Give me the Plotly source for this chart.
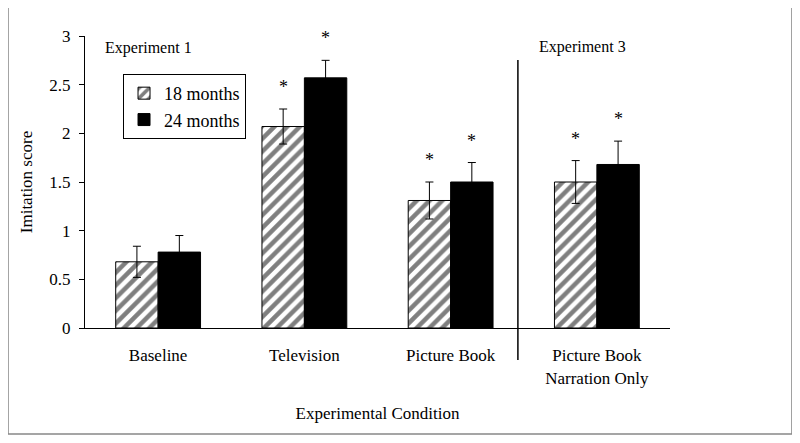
import plotly.graph_objs as go

# data
conditions = ["Baseline", "Television", "Picture Book", "Picture Book<br>Narration Only"]
months18 = [0.68, 2.07, 1.31, 1.50]
months18_err = [0.16, 0.18, 0.19, 0.22]
months24 = [0.78, 2.57, 1.50, 1.68]
months24_err = [0.17, 0.18, 0.20, 0.24]
sig18 = [False, True, True, True]
sig24 = [False, True, True, True]

font = "Liberation Serif, Times New Roman, serif"

traces = []
traces.append(go.Bar(
    x=conditions, y=months18, name="18 months",
    marker=dict(color="white", line=dict(color="black", width=1),
                pattern=dict(shape="/", fgcolor="black", bgcolor="white", size=9, solidity=0.5)),
    error_y=dict(type="data", array=months18_err, color="black", thickness=1, width=4),
))
traces.append(go.Bar(
    x=conditions, y=months24, name="24 months",
    marker=dict(color="black", line=dict(color="black", width=1)),
    error_y=dict(type="data", array=months24_err, color="black", thickness=1, width=4),
))

annotations = []
for i, c in enumerate(conditions):
    if sig18[i]:
        annotations.append(dict(x=i - 0.145, y=months18[i] + months18_err[i], xref="x", yref="y",
                                text="*", showarrow=False, yanchor="bottom", yshift=10,
                                font=dict(size=18, color="black", family=font)))
    if sig24[i]:
        annotations.append(dict(x=i + 0.145, y=months24[i] + months24_err[i], xref="x", yref="y",
                                text="*", showarrow=False, yanchor="bottom", yshift=10,
                                font=dict(size=18, color="black", family=font)))

annotations.append(dict(x=0.03, y=2.88, xref="paper", yref="y", text="Experiment 1", showarrow=False,
                        xanchor="left", font=dict(size=16, color="black", family=font)))
annotations.append(dict(x=0.85, y=2.89, xref="paper", yref="y", text="Experiment 3", showarrow=False,
                        xanchor="center", font=dict(size=16, color="black", family=font)))

shapes = [
    # divider between experiments
    dict(type="line", xref="x", yref="paper", x0=2.46, x1=2.46, y0=-0.11, y1=0.918,
         line=dict(color="black", width=1.5)),
    # outer frame
    dict(type="rect", xref="paper", yref="paper", x0=-0.1316, x1=1.2085, y0=-0.363, y1=1.099,
         line=dict(color="#888888", width=1.5)),
]

layout = go.Layout(
    width=800, height=443,
    barmode="group", bargap=0.42, bargroupgap=0,
    paper_bgcolor="white", plot_bgcolor="white",
    font=dict(family=font, size=16, color="black"),
    margin=dict(l=77, r=138, t=28, b=123),
    showlegend=True,
    legend=dict(x=0.065, y=0.87, xanchor="left", yanchor="top",
                bordercolor="black", borderwidth=1, bgcolor="white", itemwidth=30,
                font=dict(size=18, family=font), tracegroupgap=0),
    xaxis=dict(range=[-0.5, 3.5], showline=True, linecolor="black", linewidth=1,
               ticks="", showgrid=False, zeroline=False, automargin=False,
               ticklabelstandoff=12, tickfont=dict(size=17),
               title=dict(text="Experimental Condition", standoff=20, font=dict(size=17))),
    yaxis=dict(range=[0, 3], dtick=0.5, showline=True, linecolor="black", linewidth=1,
               ticks="outside", ticklen=5, tickcolor="black", showgrid=False, zeroline=False,
               automargin=False, ticklabelstandoff=5, tickfont=dict(size=17),
               title=dict(text="Imitation score", standoff=12, font=dict(size=17))),
    annotations=annotations,
    shapes=shapes,
)

fig = go.Figure(data=traces, layout=layout)
fig.write_html("out.html")
